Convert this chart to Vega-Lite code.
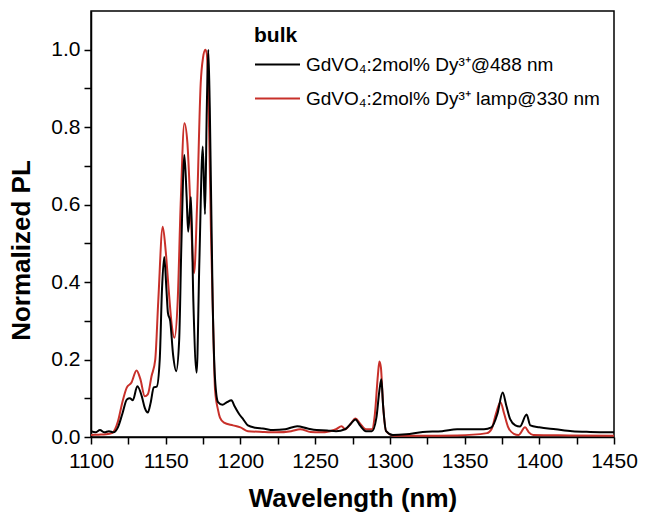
{
  "$schema": "https://vega.github.io/schema/vega-lite/v6.json",
  "width": 523,
  "height": 426,
  "autosize": {"type": "none"},
  "padding": {"left": 91, "top": 11, "right": 42, "bottom": 77},
  "background": "white",
  "config": {
    "view": {"stroke": "#000000", "strokeWidth": 1.5},
    "font": "Liberation Sans",
    "axis": {
      "domainColor": "#000000", "domainWidth": 1.5,
      "tickColor": "#000000", "tickWidth": 1.5, "tickSize": 7,
      "labelColor": "#000000", "labelFont": "Liberation Sans", "labelFontSize": 21,
      "titleColor": "#000000", "titleFont": "Liberation Sans", "titleFontSize": 26, "titleFontWeight": "bold",
      "grid": false
    }
  },
  "data": {"values": [
    {"s":"B","x":1100,"y":0.005},{"s":"B","x":1105,"y":0.006},{"s":"B","x":1110,"y":0.007},{"s":"B","x":1114,"y":0.01},
    {"s":"B","x":1118,"y":0.04},{"s":"B","x":1121,"y":0.09},{"s":"B","x":1124,"y":0.128},{"s":"B","x":1127,"y":0.14},
    {"s":"B","x":1130.5,"y":0.172},{"s":"B","x":1133,"y":0.15},{"s":"B","x":1136,"y":0.105},{"s":"B","x":1138,"y":0.11},
    {"s":"B","x":1140.5,"y":0.157},{"s":"B","x":1143,"y":0.2},{"s":"B","x":1145,"y":0.35},{"s":"B","x":1148,"y":0.543},
    {"s":"B","x":1150,"y":0.48},{"s":"B","x":1152,"y":0.38},{"s":"B","x":1154,"y":0.29},{"s":"B","x":1155.8,"y":0.256},
    {"s":"B","x":1158,"y":0.35},{"s":"B","x":1160,"y":0.6},{"s":"B","x":1162.5,"y":0.81},{"s":"B","x":1164.5,"y":0.76},
    {"s":"B","x":1166.5,"y":0.6},{"s":"B","x":1169,"y":0.423},{"s":"B","x":1171,"y":0.6},{"s":"B","x":1173.4,"y":0.912},
    {"s":"B","x":1175,"y":0.98},{"s":"B","x":1176.5,"y":1.0},{"s":"B","x":1177.5,"y":0.99},{"s":"B","x":1179,"y":0.8},
    {"s":"B","x":1180.3,"y":0.527},{"s":"B","x":1182,"y":0.25},{"s":"B","x":1183,"y":0.123},{"s":"B","x":1185,"y":0.07},
    {"s":"B","x":1186.3,"y":0.05},{"s":"B","x":1189,"y":0.037},{"s":"B","x":1195,"y":0.03},{"s":"B","x":1200,"y":0.025},
    {"s":"B","x":1205,"y":0.015},{"s":"B","x":1215,"y":0.013},{"s":"B","x":1224,"y":0.012},{"s":"B","x":1234,"y":0.015},
    {"s":"B","x":1240,"y":0.02},{"s":"B","x":1247,"y":0.013},{"s":"B","x":1253,"y":0.012},{"s":"B","x":1260,"y":0.015},
    {"s":"B","x":1264,"y":0.02},{"s":"B","x":1267.7,"y":0.028},{"s":"B","x":1270,"y":0.02},{"s":"B","x":1273,"y":0.03},
    {"s":"B","x":1277,"y":0.048},{"s":"B","x":1280,"y":0.035},{"s":"B","x":1284,"y":0.02},{"s":"B","x":1288,"y":0.02},
    {"s":"B","x":1290,"y":0.06},{"s":"B","x":1292,"y":0.16},{"s":"B","x":1293,"y":0.195},{"s":"B","x":1294,"y":0.18},
    {"s":"B","x":1295.5,"y":0.08},{"s":"B","x":1297.5,"y":0.015},{"s":"B","x":1303,"y":0.003},{"s":"B","x":1320,"y":0.003},
    {"s":"B","x":1345,"y":0.004},{"s":"B","x":1365,"y":0.01},{"s":"B","x":1368,"y":0.02},{"s":"B","x":1371,"y":0.06},
    {"s":"B","x":1374,"y":0.09},{"s":"B","x":1376.5,"y":0.06},{"s":"B","x":1379,"y":0.027},{"s":"B","x":1383,"y":0.008},
    {"s":"B","x":1386,"y":0.005},{"s":"B","x":1390.5,"y":0.025},{"s":"B","x":1393,"y":0.012},{"s":"B","x":1396,"y":0.005},
    {"s":"B","x":1420,"y":0.004},{"s":"B","x":1450,"y":0.003},

    {"s":"A","x":1100,"y":0.015},{"s":"A","x":1103,"y":0.012},{"s":"A","x":1106,"y":0.018},{"s":"A","x":1109,"y":0.012},
    {"s":"A","x":1112,"y":0.015},{"s":"A","x":1115,"y":0.012},{"s":"A","x":1118,"y":0.025},{"s":"A","x":1121,"y":0.06},
    {"s":"A","x":1124,"y":0.097},{"s":"A","x":1126,"y":0.1},{"s":"A","x":1128,"y":0.095},{"s":"A","x":1131,"y":0.131},
    {"s":"A","x":1134,"y":0.105},{"s":"A","x":1136,"y":0.075},{"s":"A","x":1138,"y":0.063},{"s":"A","x":1140,"y":0.09},
    {"s":"A","x":1142,"y":0.128},{"s":"A","x":1144,"y":0.13},{"s":"A","x":1146,"y":0.2},{"s":"A","x":1147.5,"y":0.38},
    {"s":"A","x":1149,"y":0.465},{"s":"A","x":1150.5,"y":0.38},{"s":"A","x":1151.5,"y":0.32},{"s":"A","x":1153,"y":0.3},
    {"s":"A","x":1155,"y":0.21},{"s":"A","x":1157,"y":0.17},{"s":"A","x":1159,"y":0.25},{"s":"A","x":1160.5,"y":0.5},
    {"s":"A","x":1162.5,"y":0.728},{"s":"A","x":1164,"y":0.62},{"s":"A","x":1165,"y":0.53},{"s":"A","x":1166.9,"y":0.62},
    {"s":"A","x":1168.5,"y":0.35},{"s":"A","x":1170.7,"y":0.166},{"s":"A","x":1172.5,"y":0.45},{"s":"A","x":1174.8,"y":0.75},
    {"s":"A","x":1176.3,"y":0.575},{"s":"A","x":1177.5,"y":0.85},{"s":"A","x":1178.5,"y":1.0},{"s":"A","x":1179.5,"y":0.85},
    {"s":"A","x":1181.4,"y":0.355},{"s":"A","x":1183,"y":0.15},{"s":"A","x":1185,"y":0.09},{"s":"A","x":1188,"y":0.083},
    {"s":"A","x":1191,"y":0.09},{"s":"A","x":1194,"y":0.095},{"s":"A","x":1196,"y":0.08},{"s":"A","x":1199,"y":0.06},
    {"s":"A","x":1202,"y":0.045},{"s":"A","x":1205,"y":0.03},{"s":"A","x":1210,"y":0.024},{"s":"A","x":1215,"y":0.022},
    {"s":"A","x":1222,"y":0.018},{"s":"A","x":1230,"y":0.02},{"s":"A","x":1238,"y":0.028},{"s":"A","x":1245,"y":0.022},
    {"s":"A","x":1251,"y":0.018},{"s":"A","x":1258,"y":0.017},{"s":"A","x":1264,"y":0.015},{"s":"A","x":1270,"y":0.02},
    {"s":"A","x":1274,"y":0.035},{"s":"A","x":1277,"y":0.045},{"s":"A","x":1280,"y":0.03},{"s":"A","x":1284,"y":0.015},
    {"s":"A","x":1288,"y":0.015},{"s":"A","x":1291,"y":0.05},{"s":"A","x":1293,"y":0.12},{"s":"A","x":1294.3,"y":0.149},
    {"s":"A","x":1295.5,"y":0.08},{"s":"A","x":1297.5,"y":0.015},{"s":"A","x":1302,"y":0.005},{"s":"A","x":1311,"y":0.007},
    {"s":"A","x":1322,"y":0.013},{"s":"A","x":1335,"y":0.015},{"s":"A","x":1345,"y":0.02},{"s":"A","x":1355,"y":0.02},
    {"s":"A","x":1363,"y":0.02},{"s":"A","x":1368,"y":0.025},{"s":"A","x":1372,"y":0.06},{"s":"A","x":1375.5,"y":0.115},
    {"s":"A","x":1378,"y":0.08},{"s":"A","x":1380.5,"y":0.046},{"s":"A","x":1384,"y":0.03},{"s":"A","x":1387,"y":0.027},
    {"s":"A","x":1391.5,"y":0.058},{"s":"A","x":1394,"y":0.03},{"s":"A","x":1400,"y":0.025},{"s":"A","x":1411,"y":0.02},
    {"s":"A","x":1422,"y":0.015},{"s":"A","x":1434,"y":0.013},{"s":"A","x":1450,"y":0.012}
  ]},
  "mark": {"type": "line", "strokeWidth": 2, "clip": true, "interpolate": "monotone"},
  "encoding": {
    "x": {
      "field": "x", "type": "quantitative",
      "scale": {"domain": [1100, 1450], "nice": false, "zero": false},
      "axis": {
        "title": "Wavelength (nm)",
        "values": [1100,1125,1150,1175,1200,1225,1250,1275,1300,1325,1350,1375,1400,1425,1450],
        "labelExpr": "datum.value % 50 == 0 ? datum.label : ''",
        "labelPadding": 6, "titlePadding": 14, "labelFlush": false, "format": "d"
      }
    },
    "y": {
      "field": "y", "type": "quantitative",
      "scale": {"domain": [0, 1.1], "nice": false},
      "axis": {
        "title": "Normalized PL",
        "values": [0,0.1,0.2,0.3,0.4,0.5,0.6,0.7,0.8,0.9,1.0],
        "labelExpr": "round(datum.value*10) % 2 == 0 ? format(datum.value, '.1f') : ''",
        "labelPadding": 4, "titlePadding": 16, "titleY": 239
      }
    },
    "color": {
      "field": "s", "type": "nominal",
      "scale": {"domain": ["A", "B"], "range": ["#000000", "#c8302a"]},
      "legend": {
        "title": "bulk",
        "orient": "none", "legendX": 163, "legendY": 14,
        "titleFontSize": 21, "titleFontWeight": "bold", "titleColor": "#000000", "titlePadding": -5,
        "labelFontSize": 19, "labelColor": "#000000", "labelOffset": 5, "labelLimit": 400,
        "symbolType": "stroke", "symbolSize": 2025, "symbolStrokeWidth": 2,
        "rowPadding": -12,
        "labelExpr": "datum.label == 'A' ? 'GdVO₄:2mol% Dy³⁺@488 nm' : 'GdVO₄:2mol% Dy³⁺ lamp@330 nm'"
      }
    }
  }
}
